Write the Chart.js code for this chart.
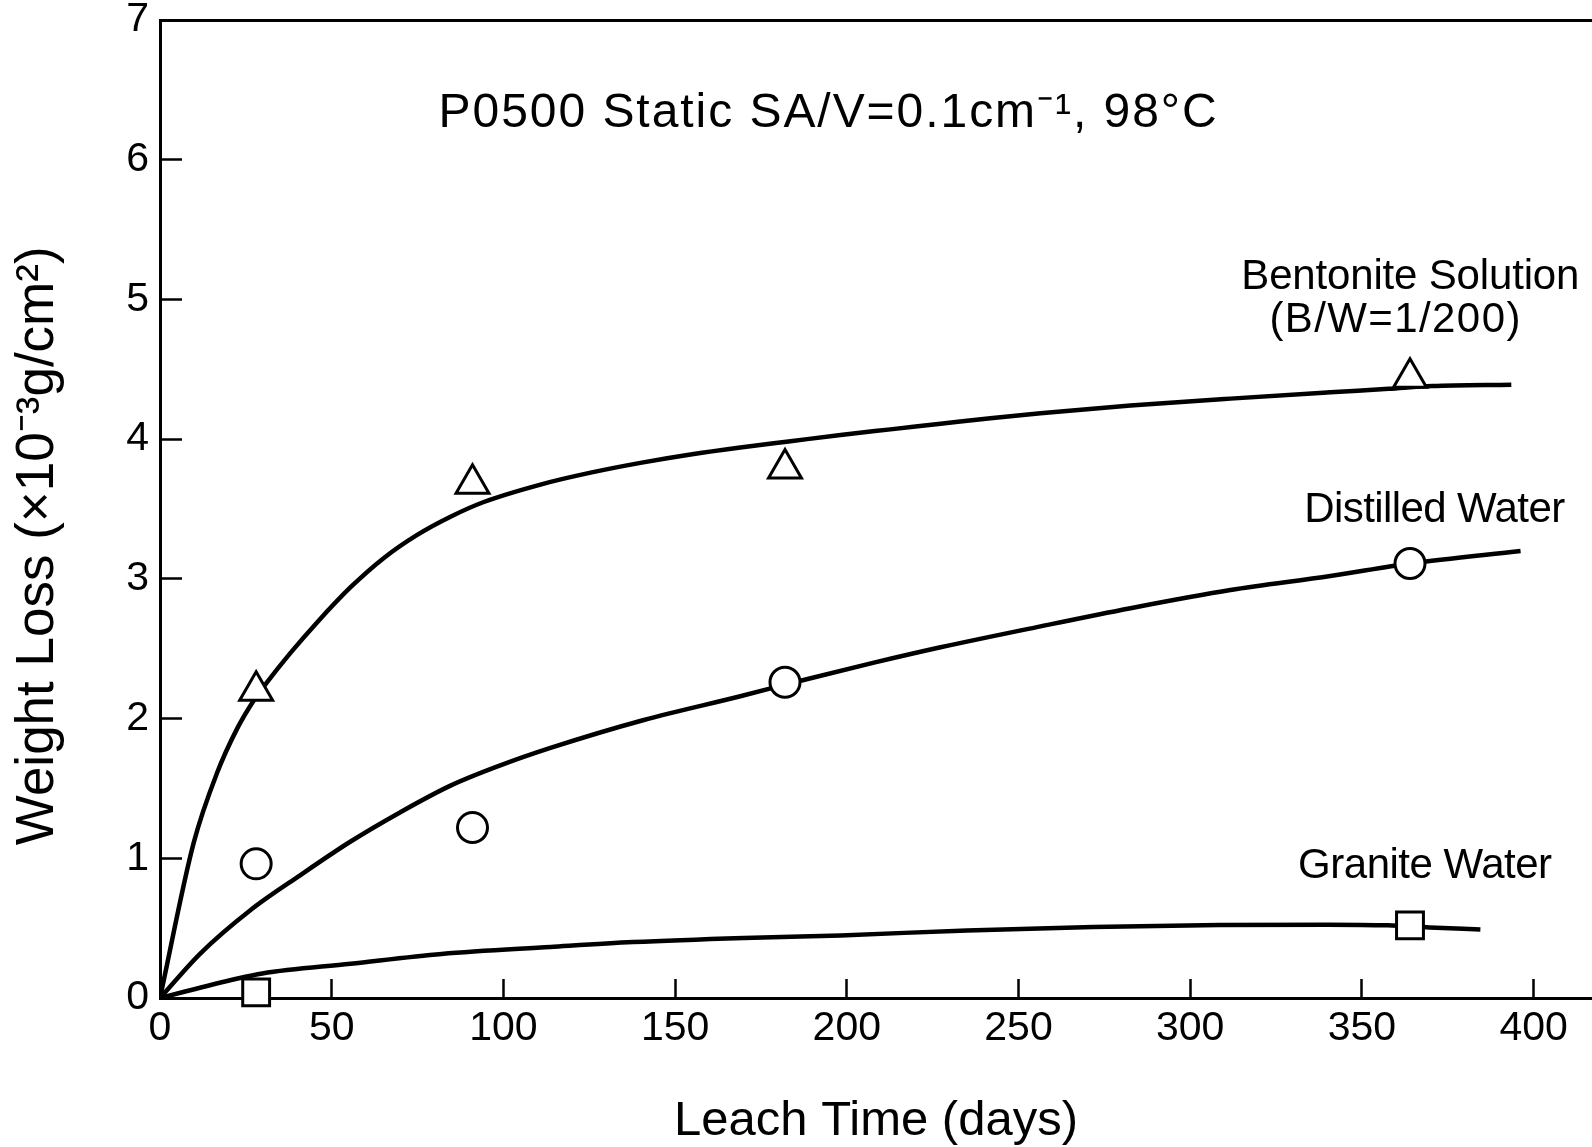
<!DOCTYPE html>
<html>
<head>
<meta charset="utf-8">
<script src="https://cdn.jsdelivr.net/npm/chart.js@4/dist/chart.umd.min.js"></script>
<style>
html, body { margin: 0; padding: 0; background: #fff; }
canvas { display: block; }
</style>
</head>
<body>
<canvas id="c" width="1592" height="1147"></canvas>
<script>
// ---- measured samples (markers) ----
const sampleDays = [28, 91, 182, 364];
const bentoniteLoss = [2.2, 3.68, 3.79, 4.44];
const distilledLoss = [0.96, 1.22, 2.26, 3.11];
const graniteDays = [28, 364];
const graniteLoss = [0.04, 0.52];

// ---- hand-drawn fitted curves ----
const bentoniteCurveDays = [0, 9.8, 16.6, 22.5, 27.3, 30.7, 38, 45.8, 55.5, 65.2, 74.9, 84.6, 94.3, 110.8, 125.4, 139.9, 154.5, 169, 183.6, 198.2, 212.7, 227.3, 241.8, 256.4, 282.6, 311.7, 340.8, 357.8, 370.5, 393.5];
const bentoniteCurveLoss = [0, 1.11, 1.61, 1.93, 2.13, 2.245, 2.47, 2.69, 2.94, 3.15, 3.315, 3.445, 3.55, 3.675, 3.76, 3.83, 3.89, 3.94, 3.985, 4.03, 4.07, 4.11, 4.15, 4.185, 4.24, 4.29, 4.335, 4.36, 4.38, 4.39];

const distilledCurveDays = [0, 11.8, 26.4, 40.9, 55.5, 70, 84.6, 99.1, 113.7, 140.9, 169, 188, 207.9, 227.3, 256.4, 282.6, 311.7, 340.8, 364, 396.2];
const distilledCurveLoss = [0, 0.32, 0.63, 0.88, 1.12, 1.33, 1.52, 1.665, 1.79, 1.99, 2.16, 2.28, 2.40, 2.51, 2.66, 2.79, 2.92, 3.02, 3.11, 3.20];

const graniteCurveDays = [0, 22, 29.8, 55.5, 82, 113.7, 137.8, 170, 198.2, 235, 271.7, 308.5, 340, 357.5, 369.7, 384.5];
const graniteCurveLoss = [0, 0.136, 0.176, 0.245, 0.315, 0.365, 0.40, 0.43, 0.448, 0.484, 0.508, 0.522, 0.525, 0.52, 0.505, 0.49];

// ---- axes ----
const xTicks = [0, 50, 100, 150, 200, 250, 300, 350, 400];
const yTicks = [0, 1, 2, 3, 4, 5, 6, 7];
const xTitle = 'Leach Time (days)';
const yTitle = 'Weight Loss (×10⁻³g/cm²)';

// ---- text labels ----
const labelTexts = ['P0500 Static SA/V=0.1cm⁻¹, 98°C', 'Bentonite Solution', '(B/W=1/200)', 'Distilled Water', 'Granite Water'];

const FONT = "'Liberation Sans', Arial, Helvetica, sans-serif";

function pts(xs, ys) { return xs.map((x, i) => ({ x: x, y: ys[i] })); }

const textPlugin = {
  id: 'texts',
  afterDraw(chart, args, opts) {
    const ctx = chart.ctx;
    const xs = chart.scales.x, ys = chart.scales.y;
    ctx.save();
    ctx.fillStyle = '#000';
    ctx.textAlign = 'center';
    ctx.textBaseline = 'middle';
    opts.items.forEach(t => {
      ctx.font = t.size + 'px ' + FONT;
      if ('letterSpacing' in ctx) ctx.letterSpacing = '0px';
      const w0 = ctx.measureText(t.text).width;
      const n = Array.from(t.text).length;
      let ls = 0;
      if ('letterSpacing' in ctx) {
        ls = (t.width - w0) / Math.max(1, n - 1);
        ctx.letterSpacing = ls + 'px';
      }
      ctx.fillText(t.text, xs.getPixelForValue(t.x) + ls / 2, ys.getPixelForValue(t.y));
    });
    ctx.restore();
  }
};

const markerBase = { showLine: false, borderColor: '#000', backgroundColor: '#fff', pointBorderWidth: 3, pointBorderColor: '#000', pointBackgroundColor: '#fff', clip: false, order: 0 };
const curveBase = { showLine: true, pointRadius: 0, borderColor: '#000', borderWidth: 4.5, cubicInterpolationMode: 'monotone', fill: false, order: 1 };

new Chart(document.getElementById('c'), {
  type: 'scatter',
  data: {
    datasets: [
      Object.assign({ label: 'Bentonite Solution (B/W=1/200)', data: pts(sampleDays, bentoniteLoss), pointStyle: 'triangle', pointRadius: 19 }, markerBase),
      Object.assign({ label: 'Distilled Water', data: pts(sampleDays, distilledLoss), pointStyle: 'circle', pointRadius: 15 }, markerBase),
      Object.assign({ label: 'Granite Water', data: pts(graniteDays, graniteLoss), pointStyle: 'rect', pointRadius: 19 }, markerBase),
      Object.assign({ label: 'Bentonite Solution curve', data: pts(bentoniteCurveDays, bentoniteCurveLoss) }, curveBase),
      Object.assign({ label: 'Distilled Water curve', data: pts(distilledCurveDays, distilledCurveLoss) }, curveBase),
      Object.assign({ label: 'Granite Water curve', data: pts(graniteCurveDays, graniteCurveLoss) }, curveBase)
    ]
  },
  options: {
    responsive: false,
    animation: false,
    devicePixelRatio: 1,
    layout: { autoPadding: false, padding: { top: 20, left: 0, right: 0, bottom: 0 } },
    plugins: {
      legend: { display: false },
      tooltip: { enabled: false },
      texts: {
        items: [
          { text: labelTexts[0], x: 194.4, y: 6.33, size: 48, width: 778 },
          { text: labelTexts[1], x: 364.1, y: 5.16, size: 42, width: 338 },
          { text: labelTexts[2], x: 359.6, y: 4.85, size: 42, width: 251 },
          { text: labelTexts[3], x: 371.2, y: 3.49, size: 42, width: 261 },
          { text: labelTexts[4], x: 368.4, y: 0.945, size: 42, width: 254 }
        ]
      }
    },
    scales: {
      x: {
        type: 'linear', position: 'bottom', min: 0, max: 417,
        afterBuildTicks(s) { s.ticks = xTicks.map(v => ({ value: v })); },
        afterFit(s) { s.height = 149; s.paddingLeft = 0; s.paddingRight = 0; },
        ticks: { color: '#000', font: { family: FONT, size: 41, lineHeight: 1 }, padding: 29, maxRotation: 0, autoSkip: false },
        grid: { drawOnChartArea: false, color: 'rgba(0,0,0,0)', tickColor: '#000', tickWidth: 2.5, tickLength: -19 },
        border: { display: true, color: '#000', width: 3 },
        title: { display: true, text: xTitle, color: '#000', font: { family: FONT, size: 49, lineHeight: 1 }, padding: { top: 0, bottom: 1 } }
      },
      y: {
        type: 'linear', position: 'left', min: 0, max: 7,
        afterBuildTicks(s) { s.ticks = yTicks.map(v => ({ value: v })); },
        afterFit(s) { s.width = 160; s.paddingTop = 0; s.paddingBottom = 0; },
        ticks: { color: '#000', font: { family: FONT, size: 41, lineHeight: 1 }, padding: 33 },
        grid: {
          drawOnChartArea: true,
          color: c => (c.tick && c.tick.value === 7) ? '#000' : 'rgba(0,0,0,0)',
          lineWidth: 3,
          tickColor: '#000', tickWidth: 2.5, tickLength: -22
        },
        border: { display: true, color: '#000', width: 3 },
        title: { display: true, text: yTitle + '     ', color: '#000', font: { family: FONT, size: 53, lineHeight: 1 }, padding: { top: 12, bottom: 0 } }
      }
    }
  },
  plugins: [textPlugin]
});
</script>
</body>
</html>
